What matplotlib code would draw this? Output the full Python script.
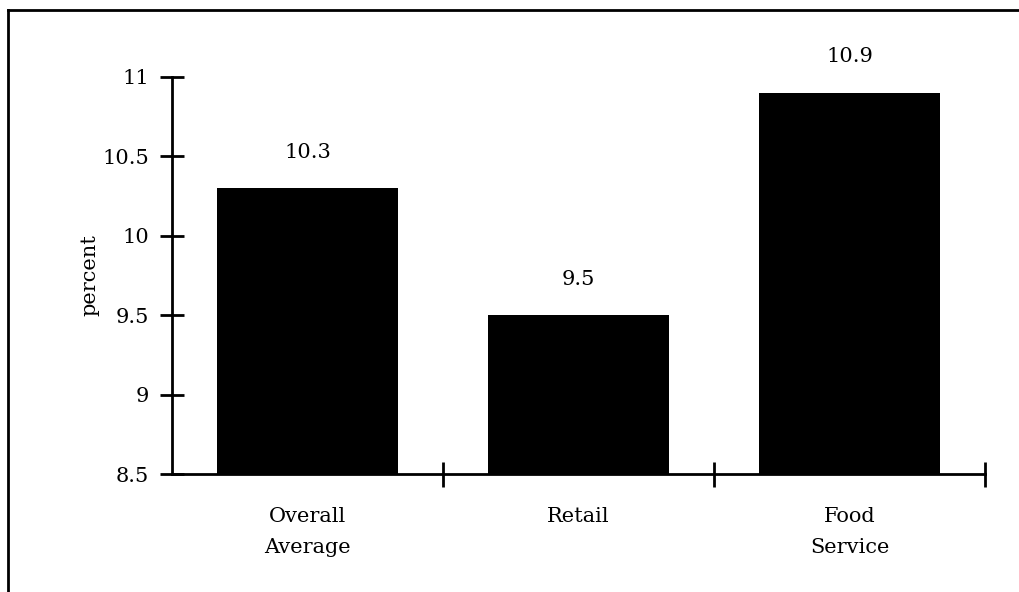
import matplotlib
matplotlib.use("Agg")
import matplotlib.pyplot as plt
from matplotlib.lines import Line2D

categories = ["Overall\nAverage", "Retail", "Food\nService"]
values = [10.3, 9.5, 10.9]
yticks = [8.5, 9, 9.5, 10, 10.5, 11]
ytick_labels = ["8.5", "9", "9.5", "10", "10.5", "11"]

plt.rcParams['font.family'] = ['DejaVu Serif']
FS = 15

fig = plt.figure(figsize=(10.19, 5.92), dpi=100)
ax = fig.add_axes([172/1019, 1-474/592, (985-172)/1019, (474-77)/592])

x = list(range(len(categories)))
ax.bar(x, values, width=0.668, color="black", zorder=1)
for xi, v in zip(x, values):
    ax.annotate(f"{v}", (xi, v), xytext=(0, 26), textcoords="offset points",
                ha="center", va="center", fontsize=FS)

ax.set_xlim(-0.5, 2.5)
ax.set_ylim(8.5, 11)
ax.set_yticks(yticks)
ax.set_yticklabels(ytick_labels, fontsize=FS)
ax.set_xticks(x)
ax.set_xticklabels(categories, fontsize=FS, linespacing=1.75)
ax.set_xticks([0.5, 1.5, 2.5], minor=True)
ax.tick_params(axis="x", which="major", length=0, pad=24)
ax.tick_params(axis="x", which="minor", direction="inout", length=18, width=2)
ax.tick_params(axis="y", direction="inout", length=17, width=2, pad=8)
for s in ["top", "right"]:
    ax.spines[s].set_visible(False)
for s in ["left", "bottom"]:
    ax.spines[s].set_linewidth(2)
    ax.spines[s].set_zorder(3)
ax.set_ylabel("percent", fontsize=FS, labelpad=2)

# figure border
fig.add_artist(Line2D([8/1019, 1.0], [1-10/592, 1-10/592], transform=fig.transFigure, color="black", lw=2))
fig.add_artist(Line2D([8/1019, 8/1019], [1-10/592, 0], transform=fig.transFigure, color="black", lw=2))

fig.savefig("out.png", dpi=100)
